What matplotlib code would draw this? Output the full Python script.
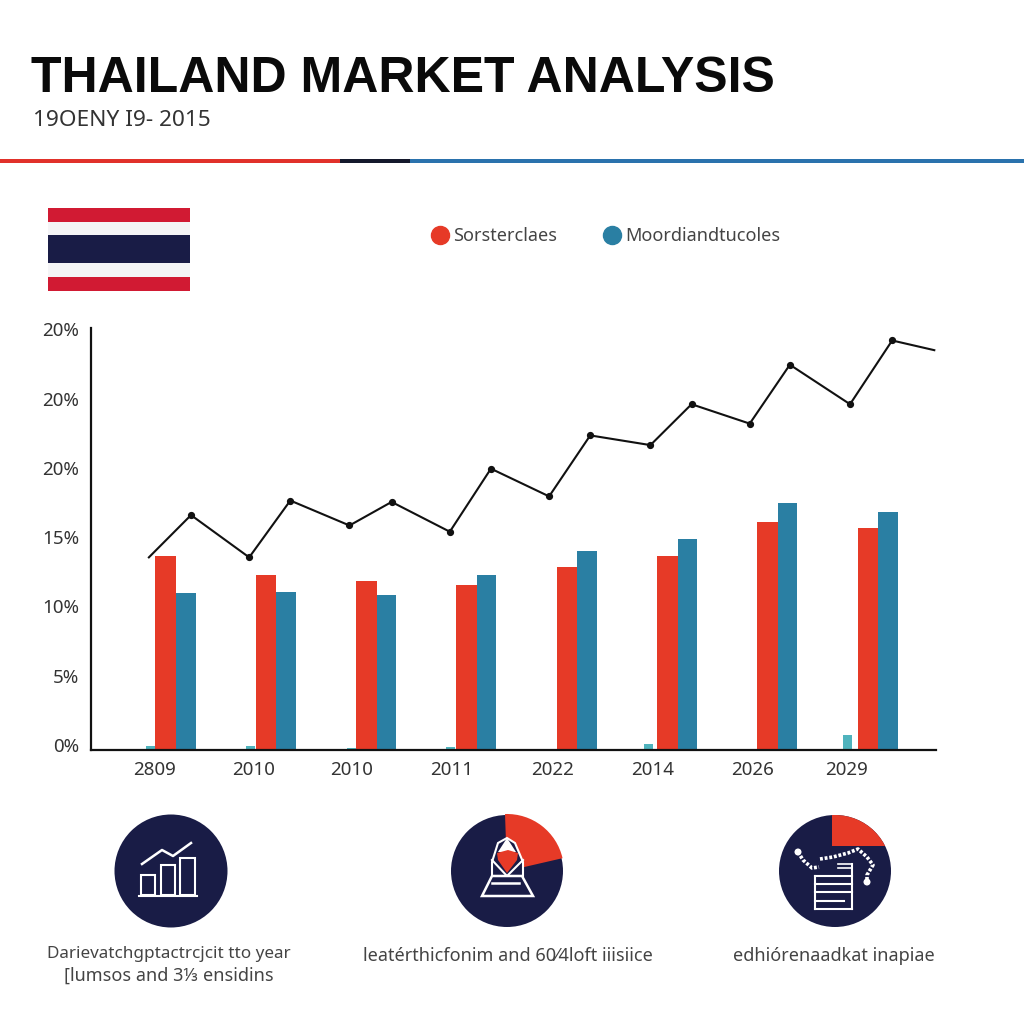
import matplotlib
matplotlib.use("Agg")
import matplotlib.pyplot as plt
from matplotlib.lines import Line2D
from matplotlib.patches import Circle, Wedge, Rectangle, Polygon
from matplotlib.transforms import ScaledTranslation
import numpy as np

plt.rcParams['font.family'] = ['Noto Sans', 'DejaVu Sans']

RED = '#e63a27'; BLUE = '#2a7fa3'; TEAL = '#4fb3bd'; NAVY = '#191c46'; FLAGRED = '#d11a33'

# ---- data ----
group_pos = [0, 1, 2, 3, 4, 5, 6, 7]
red_values = [14.0, 12.6, 12.2, 11.9, 13.2, 14.0, 16.45, 16.0]
blue_values = [11.3, 11.4, 11.2, 12.6, 14.35, 15.2, 17.8, 17.2]
small_values = [0.3, 0.3, 0.15, 0.25, 0.0, 0.45, 0.0, 1.1]
small_pos = [-0.255, 0.745, 1.75, 2.74, 4.0, 4.71, 6.0, 6.69]
line_x = [-0.27, 0.15, 0.73, 1.14, 1.73, 2.15, 2.73, 3.14, 3.72, 4.13, 4.73, 5.14, 5.72, 6.12, 6.72, 7.14, 7.56]
line_y = [13.9, 16.95, 13.9, 18.0, 16.2, 17.9, 15.75, 20.3, 18.3, 22.7, 22.0, 24.95, 23.55, 27.8, 24.95, 29.55, 28.85]
x_labels = ['2809', '2010', '2010', '2011', '2022', '2014', '2026', '2029']
x_label_pos = [-0.21, 0.77, 1.75, 2.75, 3.75, 4.75, 5.75, 6.68]
y_ticks = [0, 5, 10, 15, 20, 25, 30]
y_labels = ['0%', '5%', '10%', '15%', '20%', '20%', '20%']
legend_labels = ['Sorsterclaes', 'Moordiandtucoles']

fig = plt.figure(figsize=(10.24, 10.24), dpi=100, facecolor='white')

# pixel-space overlay for the header and icons
bg = fig.add_axes([0, 0, 1, 1], zorder=0)
bg.set_xlim(0, 1024); bg.set_ylim(1024, 0); bg.axis('off')

bg.text(31, 92, 'THAILAND MARKET ANALYSIS', fontsize=36, fontweight='bold', family='Liberation Sans',
        color='#0a0a0a', va='baseline', ha='left')
bg.text(33, 126, '19OENY I9- 2015', fontsize=16.3, color='#333333', va='baseline', ha='left')

for x0, x1, c in [(0, 340, '#e1312a'), (340, 410, '#14182c'), (410, 1024, '#2a72ad')]:
    bg.add_patch(Rectangle((x0, 159), x1 - x0, 4, color=c, lw=0))

for y0, y1, c in [(208, 222, FLAGRED), (222, 235, '#f4f4f6'), (235, 263, NAVY), (263, 277, '#f4f4f6'), (277, 291, FLAGRED)]:
    bg.add_patch(Rectangle((48, y0), 142, y1 - y0, color=c, lw=0))

# icon 1
bg.add_patch(Circle((171, 871), 56.5, color=NAVY, lw=0))
for x0, x1, y0 in [(141, 155, 875), (161, 175, 865), (180, 195, 858)]:
    bg.add_patch(Rectangle((x0, y0), x1 - x0, 895 - y0, fill=False, ec='white', lw=1.5))
bg.plot([139, 197], [896, 896], color='white', lw=1.5)
bg.plot([142, 162, 173, 191], [864, 850, 856, 843], color='white', lw=1.8)

# icon 2 (y axis is inverted, so angles run clockwise on screen)
bg.add_patch(Circle((507, 871), 56, color=NAVY, lw=0))
bg.add_patch(Wedge((507, 871), 57, -92, -13, color=RED, lw=0))
bg.add_patch(Polygon([(492, 876), (492, 862), (498, 843), (507, 838), (515, 843), (523, 862), (523, 876)], closed=True, fc=NAVY, ec='white', lw=1.5))
bg.add_patch(Polygon([(498, 852), (516, 852), (507, 838)], closed=True, fc='white', lw=0))
bg.add_patch(Polygon([(482, 896), (492, 876), (522, 876), (533, 896)], closed=True, fc=NAVY, ec='white', lw=1.8))
bg.plot([492, 519], [883, 883], color='white', lw=1.8)
bg.plot([492, 507, 523], [860, 876, 860], color='white', lw=1.5)
bg.add_patch(Polygon([(497, 853), (508, 850), (518, 853), (517, 860), (507, 873), (498, 860)], closed=True, fc=RED, lw=0))

# icon 3
bg.add_patch(Circle((835, 871), 56, color=NAVY, lw=0))
r3 = Rectangle((832, 815), 60, 31, color=RED, lw=0)
bg.add_patch(r3)
r3.set_clip_path(Circle((835, 871), 56, transform=bg.transData))
for y, x1 in [(876, 852), (884, 852), (892, 852), (901, 844), (909, 852)]:
    bg.plot([815, x1], [y, y], color='white', lw=1.5)
bg.plot([815, 815], [876, 909], color='white', lw=1.5)
bg.plot([852, 852], [864, 909], color='white', lw=1.5)
bg.plot([838, 852], [864, 864], color='white', lw=1.2)
bg.plot([838, 852], [868, 868], color='white', lw=1.2)
bg.plot([798, 803, 812, 819], [852, 860, 868, 867], color='white', lw=2.6, ls=(0, (0.8, 0.5)))
bg.plot([820, 833, 848, 858, 867, 873, 867, 867], [859, 857, 853, 849, 857, 865, 875, 882], color='white', lw=2.6, ls=(0, (0.8, 0.5)))
bg.add_patch(Circle((798, 852), 3.5, color='white', lw=0))
bg.add_patch(Circle((867, 882), 3.5, color='white', lw=0))

capt = dict(fontsize=13, color='#444444', ha='center', va='center')
bg.text(169, 954, 'Darievatchgptactrcjcit tto year', **{**capt, 'fontsize': 12.3})
bg.text(169, 976, '[lumsos and 3\u2153 ensidins', **capt)
bg.text(508, 956, 'leat\u00e9rthicfonim and 60\u20444loft iiisiice', **capt)
bg.text(834, 956, 'edhi\u00f3renaadkat inapiae', **capt)

# chart
ax = fig.add_axes([91 / 1024, 274 / 1024, 845 / 1024, 422 / 1024], zorder=1)
ax.patch.set_alpha(0)
ax.set_xlim(-0.847, 7.577)
ax.set_ylim(0, 30.45)
gp = np.array(group_pos)
w = 0.205
ax.bar(small_pos, small_values, width=0.09, color=TEAL, lw=0)
ax.bar(gp - w / 2, red_values, width=w, color=RED, lw=0, label=legend_labels[0])
ax.bar(gp + w / 2 - 0.005, blue_values, width=w - 0.01, color=BLUE, lw=0, label=legend_labels[1])
ax.plot(line_x, line_y, color='#111111', lw=1.5, zorder=4)
ax.plot(line_x[1:-1], line_y[1:-1], ls='none', marker='o', ms=4.2, mfc='#111111', mec='#111111', zorder=5)

for s in ('top', 'right'):
    ax.spines[s].set_visible(False)
for s in ('left', 'bottom'):
    ax.spines[s].set_linewidth(1.6)
    ax.spines[s].set_color('#111111')
ax.set_xticks(x_label_pos, x_labels, fontsize=13.5, color='#333333')
ax.set_yticks(y_ticks, y_labels, fontsize=13.5, color='#333333')
ax.tick_params(axis='both', length=0)
ax.tick_params(axis='x', pad=8)
ax.tick_params(axis='y', pad=8.5)
shift = ScaledTranslation(0, 5 / 100, fig.dpi_scale_trans)
for t in ax.get_yticklabels():
    t.set_transform(t.get_transform() + shift)

handles = [Line2D([], [], ls='none', marker='o', ms=13, mfc=RED, mec=RED),
           Line2D([], [], ls='none', marker='o', ms=13, mfc=BLUE, mec=BLUE)]
fig.legend(handles, legend_labels, ncols=2, frameon=False, loc='center',
           bbox_to_anchor=(606 / 1024, 1 - 236 / 1024), fontsize=13,
           labelcolor='#444444', handlelength=1.0, handletextpad=0.22, columnspacing=2.55)

fig.savefig('out.png', dpi=100, facecolor='white')
